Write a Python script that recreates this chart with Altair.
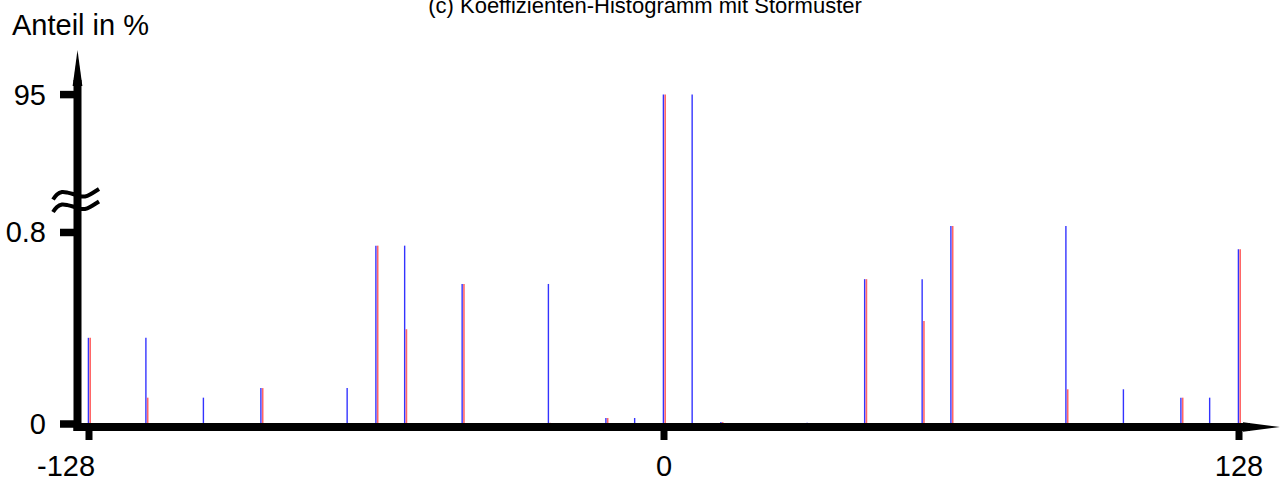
import altair as alt
import pandas as pd

# ---------------- data ----------------
positions = [-128, -115.2, -102.4, -89.6, -70.4, -64, -57.6, -44.8, -25.6, -12.8, -6.4,
             0, 6.4, 12.8, 32, 44.8, 57.6, 64, 89.6, 102.4, 115.2, 121.6, 128]
blue_vals = [0.36, 0.36, 0.11, 0.15, 0.15, 0.745, 0.745, 0.585, 0.585, 0.025, 0.025,
             95, 95, 0.008, 0.005, 0.605, 0.605, 0.827, 0.827, 0.145, 0.11, 0.11, 0.73]
red_vals = [0.36, 0.11, None, 0.15, 0.004, 0.745, 0.396, 0.585, 0.005, 0.025, None,
            95, None, 0.008, None, 0.605, 0.43, 0.827, 0.145, None, 0.11, None, 0.73]
y_ticks = [0, 0.8, 95]
y_tick_labels = ["0", "0.8", "95"]
x_ticks = [-128, 0, 128]
x_tick_labels = ["-128", "0", "128"]
title_text = "(c) Koeffizienten-Histogramm mit Störmuster"
y_title = "Anteil in %"

# ---------------- layout / scales ----------------
W, H = 1285, 485
PX_X = 4.4922            # pixels per x unit
X0_PX = 89               # pixel of x=-128
xmin = -128 - X0_PX / PX_X
xmax = xmin + W / PX_X
PX_Y = 239.4             # pixels per % in the lower segment
Y0_PX = 424              # pixel of 0 %
ymin = -(H - Y0_PX) / PX_Y
ymax = Y0_PX / PX_Y
BREAK_TOP = 1.376        # display position of the upper (broken) segment


def disp(v):
    return v if v <= 1 else BREAK_TOP


xs = alt.Scale(domain=[xmin, xmax], nice=False, zero=False)
ys = alt.Scale(domain=[ymin, ymax], nice=False, zero=False)
FONT = "Liberation Sans"
LAB = 29

rows = []
for p, b, r in zip(positions, blue_vals, red_vals):
    if b is not None:
        rows.append({"pos": p, "series": "blau", "val": b, "disp": disp(b)})
    if r is not None:
        rows.append({"pos": p, "series": "rot", "val": r, "disp": disp(r)})
bars = pd.DataFrame(rows)

blue_layer = alt.Chart(bars).transform_filter(alt.datum.series == "blau").mark_rule(
    color="#0000ff", strokeWidth=1.4, opacity=0.8, xOffset=-0.6
).encode(
    x=alt.X("pos:Q", scale=xs, axis=None),
    y=alt.Y("disp:Q", scale=ys, axis=None),
    y2=alt.datum(0),
)
red_layer = alt.Chart(bars).transform_filter(alt.datum.series == "rot").mark_rule(
    color="#ff0000", strokeWidth=1.6, opacity=0.6, xOffset=1.2
).encode(
    x=alt.X("pos:Q", scale=xs, axis=None),
    y=alt.Y("disp:Q", scale=ys, axis=None),
    y2=alt.datum(0),
)

one = pd.DataFrame({"a": [0]})

# axes lines
y_axis = alt.Chart(one).mark_rule(color="black", strokeWidth=8).encode(
    x=alt.value(77.5), y=alt.value(431), y2=alt.value(80))
x_axis = alt.Chart(one).mark_rule(color="black", strokeWidth=8).encode(
    x=alt.value(73.5), x2=alt.value(1250), y=alt.value(427))

up_arrow = alt.Chart(one).mark_point(
    shape="M 0 -1 L 0.27 1 L -0.27 1 Z", filled=True, color="black", opacity=1,
    size=1300, strokeWidth=0
).encode(x=alt.value(77.5), y=alt.value(68))
right_arrow = alt.Chart(one).mark_point(
    shape="M 1 0 L -1 0.26 L -1 -0.26 Z", filled=True, color="black", opacity=1,
    size=1370, strokeWidth=0
).encode(x=alt.value(1261.5), y=alt.value(427))

# ticks
ytick_df = pd.DataFrame({"v": y_ticks, "lab": y_tick_labels})
ytick_df["disp"] = [disp(v) for v in y_ticks]
y_tick_marks = alt.Chart(ytick_df).mark_rule(color="black", strokeWidth=7.5).encode(
    x=alt.value(60), x2=alt.value(77),
    y=alt.Y("disp:Q", scale=ys, axis=None))
y_tick_text = alt.Chart(ytick_df).mark_text(
    align="right", baseline="middle", fontSize=LAB, font=FONT, color="black", dy=1
).encode(x=alt.value(46), y=alt.Y("disp:Q", scale=ys, axis=None), text="lab:N")

xtick_df = pd.DataFrame({"v": x_ticks, "lab": x_tick_labels})
x_tick_marks = alt.Chart(xtick_df).mark_rule(color="black", strokeWidth=7).encode(
    x=alt.X("v:Q", scale=xs, axis=None), y=alt.value(427), y2=alt.value(440))
x_text_main = alt.Chart(xtick_df).transform_filter(alt.datum.v >= 0).mark_text(
    align="center", baseline="alphabetic", fontSize=LAB, font=FONT, color="black"
).encode(x=alt.X("v:Q", scale=xs, axis=None), y=alt.value(476), text="lab:N")
x_text_neg = alt.Chart(xtick_df).transform_filter(alt.datum.v < 0).mark_text(
    align="center", baseline="alphabetic", fontSize=LAB, font=FONT, color="black", dx=-23
).encode(x=alt.X("v:Q", scale=xs, axis=None), y=alt.value(476), text="lab:N")

# axis break symbol (two tildes)
tx = [53, 57, 62, 67, 73, 79, 85, 90, 95, 99]
ty = [199.5, 194.5, 192, 192.5, 194, 196, 196.5, 194.5, 191.5, 189]
trows = []
for k, off in enumerate([0, 12.5]):
    for i, (a, b) in enumerate(zip(tx, ty)):
        trows.append({"g": k, "i": i, "px": a, "py": b + off})
tilde = alt.Chart(pd.DataFrame(trows)).mark_line(
    color="black", strokeWidth=4, interpolate="natural"
).encode(
    x=alt.X("px:Q", scale=None, axis=None),
    y=alt.Y("py:Q", scale=None, axis=None),
    detail="g:N", order="i:Q")

ytitle = alt.Chart(pd.DataFrame({"t": [y_title]})).mark_text(
    align="left", baseline="alphabetic", fontSize=LAB, font=FONT, color="black"
).encode(x=alt.value(12), y=alt.value(35), text="t:N")
title = alt.Chart(pd.DataFrame({"t": [title_text]})).mark_text(
    align="center", baseline="alphabetic", fontSize=22, font=FONT, color="black"
).encode(x=alt.value(645), y=alt.value(12.5), text="t:N")

chart = alt.layer(
    blue_layer, red_layer, x_axis, y_axis, up_arrow, right_arrow,
    y_tick_marks, x_tick_marks, tilde, y_tick_text, x_text_main, x_text_neg,
    ytitle, title
).properties(
    width=W, height=H, padding=0,
    autosize=alt.AutoSizeParams(type="none"),
    background="white",
).configure_view(stroke=None)

chart.save("out.html", embed_options={"renderer": "svg", "actions": False})
